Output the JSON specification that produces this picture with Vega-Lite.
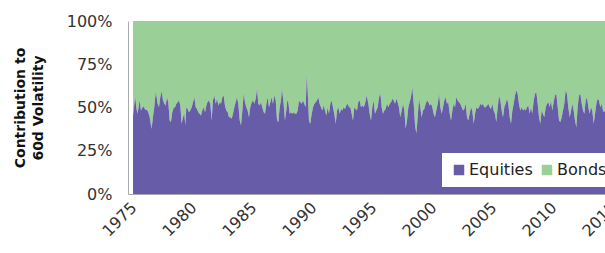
{
  "$schema": "https://vega.github.io/schema/vega-lite/v6.json",
  "autosize": "none",
  "width": 492,
  "height": 173,
  "padding": {"left": 128, "top": 21, "right": 0, "bottom": 59},
  "background": "white",
  "config": {"view": {"stroke": null}, "font": "DejaVu Sans"},
  "data": {"values": [
    {"t":1975.42,"eq":0.454},{"t":1975.53,"eq":0.521},{"t":1975.61,"eq":0.559},{"t":1975.69,"eq":0.502},{"t":1975.78,"eq":0.464},{"t":1975.89,"eq":0.502},{"t":1975.97,"eq":0.544},{"t":1976.08,"eq":0.483},{"t":1976.19,"eq":0.498},{"t":1976.31,"eq":0.506},{"t":1976.44,"eq":0.487},{"t":1976.58,"eq":0.487},{"t":1976.69,"eq":0.473},{"t":1976.81,"eq":0.444},{"t":1976.89,"eq":0.406},{"t":1976.97,"eq":0.377},{"t":1977.08,"eq":0.444},{"t":1977.19,"eq":0.502},{"t":1977.31,"eq":0.588},{"t":1977.39,"eq":0.559},{"t":1977.47,"eq":0.521},{"t":1977.58,"eq":0.502},{"t":1977.69,"eq":0.559},{"t":1977.81,"eq":0.594},{"t":1977.92,"eq":0.540},{"t":1978.03,"eq":0.521},{"t":1978.14,"eq":0.511},{"t":1978.25,"eq":0.559},{"t":1978.36,"eq":0.531},{"t":1978.47,"eq":0.425},{"t":1978.58,"eq":0.416},{"t":1978.69,"eq":0.473},{"t":1978.81,"eq":0.498},{"t":1978.92,"eq":0.502},{"t":1979.03,"eq":0.521},{"t":1979.14,"eq":0.531},{"t":1979.25,"eq":0.540},{"t":1979.36,"eq":0.511},{"t":1979.47,"eq":0.406},{"t":1979.58,"eq":0.444},{"t":1979.69,"eq":0.464},{"t":1979.78,"eq":0.397},{"t":1979.86,"eq":0.502},{"t":1979.97,"eq":0.492},{"t":1980.08,"eq":0.473},{"t":1980.19,"eq":0.483},{"t":1980.31,"eq":0.502},{"t":1980.42,"eq":0.531},{"t":1980.53,"eq":0.559},{"t":1980.64,"eq":0.502},{"t":1980.75,"eq":0.492},{"t":1980.86,"eq":0.473},{"t":1980.97,"eq":0.464},{"t":1981.08,"eq":0.454},{"t":1981.19,"eq":0.483},{"t":1981.31,"eq":0.502},{"t":1981.42,"eq":0.473},{"t":1981.53,"eq":0.511},
    {"t":1981.62,"eq":0.531},{"t":1981.72,"eq":0.540},{"t":1981.86,"eq":0.521},{"t":1981.97,"eq":0.425},{"t":1982.08,"eq":0.540},{"t":1982.19,"eq":0.569},{"t":1982.31,"eq":0.521},{"t":1982.42,"eq":0.550},{"t":1982.53,"eq":0.511},{"t":1982.64,"eq":0.531},{"t":1982.75,"eq":0.521},{"t":1982.86,"eq":0.559},{"t":1982.97,"eq":0.569},{"t":1983.08,"eq":0.511},{"t":1983.19,"eq":0.483},{"t":1983.31,"eq":0.473},{"t":1983.42,"eq":0.444},{"t":1983.53,"eq":0.444},{"t":1983.64,"eq":0.435},{"t":1983.75,"eq":0.464},{"t":1983.86,"eq":0.502},{"t":1983.97,"eq":0.531},{"t":1984.08,"eq":0.559},{"t":1984.19,"eq":0.521},{"t":1984.31,"eq":0.425},{"t":1984.42,"eq":0.397},{"t":1984.53,"eq":0.483},{"t":1984.64,"eq":0.579},{"t":1984.75,"eq":0.531},{"t":1984.86,"eq":0.502},{"t":1984.97,"eq":0.483},{"t":1985.08,"eq":0.444},{"t":1985.19,"eq":0.502},{"t":1985.31,"eq":0.531},{"t":1985.42,"eq":0.540},{"t":1985.53,"eq":0.521},{"t":1985.64,"eq":0.550},{"t":1985.75,"eq":0.607},{"t":1985.86,"eq":0.521},{"t":1985.97,"eq":0.511},{"t":1986.08,"eq":0.531},{"t":1986.19,"eq":0.502},{"t":1986.31,"eq":0.473},{"t":1986.42,"eq":0.464},{"t":1986.53,"eq":0.521},{"t":1986.64,"eq":0.559},{"t":1986.75,"eq":0.502},{"t":1986.86,"eq":0.531},{"t":1986.97,"eq":0.559},{"t":1987.08,"eq":0.521},{"t":1987.19,"eq":0.569},{"t":1987.31,"eq":0.540},{"t":1987.42,"eq":0.425},{"t":1987.53,"eq":0.416},{"t":1987.64,"eq":0.502},{"t":1987.75,"eq":0.540},{"t":1987.83,"eq":0.610},{"t":1987.97,"eq":0.521},{"t":1988.08,"eq":0.425},{"t":1988.19,"eq":0.483},
    {"t":1988.27,"eq":0.540},{"t":1988.36,"eq":0.531},{"t":1988.47,"eq":0.464},{"t":1988.58,"eq":0.473},{"t":1988.69,"eq":0.464},{"t":1988.81,"eq":0.473},{"t":1988.92,"eq":0.464},{"t":1989.03,"eq":0.464},{"t":1989.14,"eq":0.483},{"t":1989.25,"eq":0.540},{"t":1989.36,"eq":0.531},{"t":1989.47,"eq":0.521},{"t":1989.58,"eq":0.540},{"t":1989.69,"eq":0.521},{"t":1989.81,"eq":0.502},{"t":1989.89,"eq":0.684},{"t":1989.97,"eq":0.598},{"t":1990.08,"eq":0.425},{"t":1990.19,"eq":0.406},{"t":1990.31,"eq":0.464},{"t":1990.42,"eq":0.502},{"t":1990.53,"eq":0.521},{"t":1990.64,"eq":0.531},{"t":1990.75,"eq":0.540},{"t":1990.86,"eq":0.559},{"t":1990.97,"eq":0.521},{"t":1991.08,"eq":0.502},{"t":1991.19,"eq":0.483},{"t":1991.31,"eq":0.511},{"t":1991.42,"eq":0.483},{"t":1991.53,"eq":0.454},{"t":1991.64,"eq":0.502},{"t":1991.75,"eq":0.464},{"t":1991.86,"eq":0.521},{"t":1991.97,"eq":0.540},{"t":1992.08,"eq":0.502},{"t":1992.19,"eq":0.464},{"t":1992.31,"eq":0.406},{"t":1992.42,"eq":0.483},{"t":1992.53,"eq":0.502},{"t":1992.64,"eq":0.464},{"t":1992.75,"eq":0.492},{"t":1992.86,"eq":0.483},{"t":1992.97,"eq":0.502},{"t":1993.08,"eq":0.492},{"t":1993.19,"eq":0.511},{"t":1993.31,"eq":0.521},{"t":1993.42,"eq":0.502},{"t":1993.53,"eq":0.502},{"t":1993.64,"eq":0.464},{"t":1993.75,"eq":0.425},{"t":1993.86,"eq":0.502},{"t":1993.97,"eq":0.492},{"t":1994.08,"eq":0.483},{"t":1994.19,"eq":0.531},{"t":1994.31,"eq":0.540},{"t":1994.42,"eq":0.502},{"t":1994.53,"eq":0.511},{"t":1994.64,"eq":0.502},{"t":1994.75,"eq":0.521},{"t":1994.89,"eq":0.569},
    {"t":1995.03,"eq":0.521},{"t":1995.14,"eq":0.464},{"t":1995.25,"eq":0.425},{"t":1995.36,"eq":0.502},{"t":1995.47,"eq":0.540},{"t":1995.58,"eq":0.464},{"t":1995.69,"eq":0.483},{"t":1995.81,"eq":0.502},{"t":1995.92,"eq":0.559},{"t":1996.03,"eq":0.579},{"t":1996.14,"eq":0.502},{"t":1996.25,"eq":0.464},{"t":1996.36,"eq":0.483},{"t":1996.47,"eq":0.492},{"t":1996.58,"eq":0.521},{"t":1996.69,"eq":0.502},{"t":1996.81,"eq":0.521},{"t":1996.92,"eq":0.531},{"t":1997.03,"eq":0.550},{"t":1997.14,"eq":0.540},{"t":1997.25,"eq":0.521},{"t":1997.36,"eq":0.550},{"t":1997.47,"eq":0.531},{"t":1997.58,"eq":0.502},{"t":1997.69,"eq":0.444},{"t":1997.81,"eq":0.483},{"t":1997.92,"eq":0.521},{"t":1998.03,"eq":0.483},{"t":1998.14,"eq":0.377},{"t":1998.25,"eq":0.425},{"t":1998.36,"eq":0.502},{"t":1998.47,"eq":0.531},{"t":1998.58,"eq":0.559},{"t":1998.69,"eq":0.617},{"t":1998.81,"eq":0.521},{"t":1998.92,"eq":0.397},{"t":1999.03,"eq":0.349},{"t":1999.14,"eq":0.444},{"t":1999.25,"eq":0.550},{"t":1999.36,"eq":0.502},{"t":1999.47,"eq":0.444},{"t":1999.58,"eq":0.483},{"t":1999.69,"eq":0.492},{"t":1999.81,"eq":0.521},{"t":1999.92,"eq":0.540},{"t":2000.03,"eq":0.531},{"t":2000.14,"eq":0.511},{"t":2000.25,"eq":0.521},{"t":2000.36,"eq":0.502},{"t":2000.47,"eq":0.464},{"t":2000.58,"eq":0.444},{"t":2000.69,"eq":0.483},{"t":2000.81,"eq":0.521},{"t":2000.92,"eq":0.579},{"t":2001.03,"eq":0.502},{"t":2001.14,"eq":0.464},{"t":2001.25,"eq":0.502},{"t":2001.36,"eq":0.540},{"t":2001.47,"eq":0.559},
    {"t":2001.58,"eq":0.521},{"t":2001.69,"eq":0.531},{"t":2001.81,"eq":0.464},{"t":2001.92,"eq":0.425},{"t":2002.03,"eq":0.483},{"t":2002.14,"eq":0.521},{"t":2002.25,"eq":0.502},{"t":2002.36,"eq":0.559},{"t":2002.47,"eq":0.540},{"t":2002.58,"eq":0.531},{"t":2002.69,"eq":0.521},{"t":2002.81,"eq":0.502},{"t":2002.92,"eq":0.483},{"t":2003.03,"eq":0.492},{"t":2003.14,"eq":0.521},{"t":2003.25,"eq":0.444},{"t":2003.36,"eq":0.425},{"t":2003.47,"eq":0.464},{"t":2003.58,"eq":0.502},{"t":2003.69,"eq":0.483},{"t":2003.81,"eq":0.406},{"t":2003.92,"eq":0.464},{"t":2004.03,"eq":0.502},{"t":2004.14,"eq":0.492},{"t":2004.25,"eq":0.502},{"t":2004.36,"eq":0.521},{"t":2004.47,"eq":0.511},{"t":2004.58,"eq":0.521},{"t":2004.69,"eq":0.502},{"t":2004.81,"eq":0.502},{"t":2004.92,"eq":0.511},{"t":2005.03,"eq":0.521},{"t":2005.14,"eq":0.502},{"t":2005.25,"eq":0.492},{"t":2005.36,"eq":0.521},{"t":2005.47,"eq":0.483},{"t":2005.58,"eq":0.464},{"t":2005.69,"eq":0.416},{"t":2005.81,"eq":0.502},{"t":2005.92,"eq":0.569},{"t":2006.03,"eq":0.540},{"t":2006.14,"eq":0.483},{"t":2006.25,"eq":0.444},{"t":2006.36,"eq":0.502},{"t":2006.47,"eq":0.521},{"t":2006.58,"eq":0.550},{"t":2006.69,"eq":0.521},{"t":2006.81,"eq":0.444},{"t":2006.92,"eq":0.406},{"t":2007.03,"eq":0.483},{"t":2007.14,"eq":0.521},{"t":2007.25,"eq":0.569},{"t":2007.36,"eq":0.598},{"t":2007.47,"eq":0.579},{"t":2007.58,"eq":0.521},{"t":2007.69,"eq":0.483},{"t":2007.81,"eq":0.502},{"t":2007.92,"eq":0.483},{"t":2008.03,"eq":0.492},{"t":2008.14,"eq":0.483},
    {"t":2008.25,"eq":0.502},{"t":2008.36,"eq":0.511},{"t":2008.47,"eq":0.464},{"t":2008.58,"eq":0.502},{"t":2008.69,"eq":0.464},{"t":2008.81,"eq":0.540},{"t":2008.92,"eq":0.579},{"t":2009.03,"eq":0.588},{"t":2009.14,"eq":0.521},{"t":2009.25,"eq":0.444},{"t":2009.36,"eq":0.406},{"t":2009.47,"eq":0.483},{"t":2009.58,"eq":0.464},{"t":2009.69,"eq":0.444},{"t":2009.81,"eq":0.502},{"t":2009.92,"eq":0.521},{"t":2010.03,"eq":0.531},{"t":2010.14,"eq":0.502},{"t":2010.25,"eq":0.540},{"t":2010.36,"eq":0.483},{"t":2010.47,"eq":0.531},{"t":2010.58,"eq":0.569},{"t":2010.69,"eq":0.579},{"t":2010.81,"eq":0.502},{"t":2010.92,"eq":0.425},{"t":2011.03,"eq":0.416},{"t":2011.14,"eq":0.444},{"t":2011.25,"eq":0.483},{"t":2011.36,"eq":0.521},{"t":2011.47,"eq":0.598},{"t":2011.58,"eq":0.579},{"t":2011.69,"eq":0.502},{"t":2011.81,"eq":0.444},{"t":2011.92,"eq":0.483},{"t":2012.03,"eq":0.521},{"t":2012.14,"eq":0.483},{"t":2012.25,"eq":0.425},{"t":2012.36,"eq":0.387},{"t":2012.47,"eq":0.502},{"t":2012.58,"eq":0.569},{"t":2012.69,"eq":0.579},{"t":2012.81,"eq":0.521},{"t":2012.92,"eq":0.483},{"t":2013.03,"eq":0.464},{"t":2013.14,"eq":0.540},{"t":2013.25,"eq":0.559},{"t":2013.36,"eq":0.502},{"t":2013.47,"eq":0.464},{"t":2013.58,"eq":0.502},{"t":2013.69,"eq":0.483},{"t":2013.81,"eq":0.406},{"t":2013.92,"eq":0.464},{"t":2014.03,"eq":0.521},{"t":2014.14,"eq":0.550},{"t":2014.25,"eq":0.540},{"t":2014.36,"eq":0.502},{"t":2014.47,"eq":0.521},{"t":2014.58,"eq":0.483},{"t":2014.67,"eq":0.473},{"t":2014.85,"eq":0.492},{"t":2015.05,"eq":0.511},{"t":2015.3,"eq":0.483}
  ]},
  "encoding": {
    "x": {
      "field": "t", "type": "quantitative",
      "scale": {"domain": [1975, 2016], "nice": false, "zero": false},
      "axis": {
        "title": null, "values": [1975, 1980, 1985, 1990, 1995, 2000, 2005, 2010, 2015],
        "format": "d", "labelAngle": -45, "labelFontSize": 16, "labelColor": "#333",
        "labelFlush": false, "labelOverlap": false, "labelBound": false,
        "ticks": false, "grid": false, "domainColor": "#aaaaaa", "labelPadding": 5
      }
    },
    "y": {
      "field": "eq", "type": "quantitative",
      "scale": {"domain": [0, 1], "nice": false},
      "axis": {
        "title": ["Contribution to", "60d Volatility"],
        "titleFontSize": 14, "titleFontWeight": "bold", "titleColor": "#111",
        "titleLineHeight": 18, "titlePadding": 21,
        "values": [0, 0.25, 0.5, 0.75, 1], "format": ".0%",
        "labelFontSize": 16, "labelColor": "#333", "labelPadding": 16,
        "ticks": false, "grid": false, "domainColor": "#aaaaaa"
      }
    }
  },
  "layer": [
    {
      "mark": {"type": "area", "interpolate": "linear"},
      "encoding": {
        "y2": {"datum": 1},
        "color": {
          "datum": "Bonds", "type": "nominal",
          "scale": {"domain": ["Equities", "Bonds"], "range": ["#675ca7", "#9acf98"]},
          "legend": {
            "title": null, "orient": "none", "legendX": 314, "legendY": 132, "direction": "horizontal",
            "fillColor": "white", "padding": 9, "symbolType": "square", "symbolSize": 110,
            "symbolOpacity": 1, "symbolStrokeWidth": 0, "labelFontSize": 16, "labelColor": "#222",
            "labelOffset": 2, "columnPadding": 6
          }
        }
      }
    },
    {
      "mark": {"type": "area", "interpolate": "linear"},
      "encoding": {
        "color": {"datum": "Equities", "type": "nominal"}
      }
    }
  ]
}
